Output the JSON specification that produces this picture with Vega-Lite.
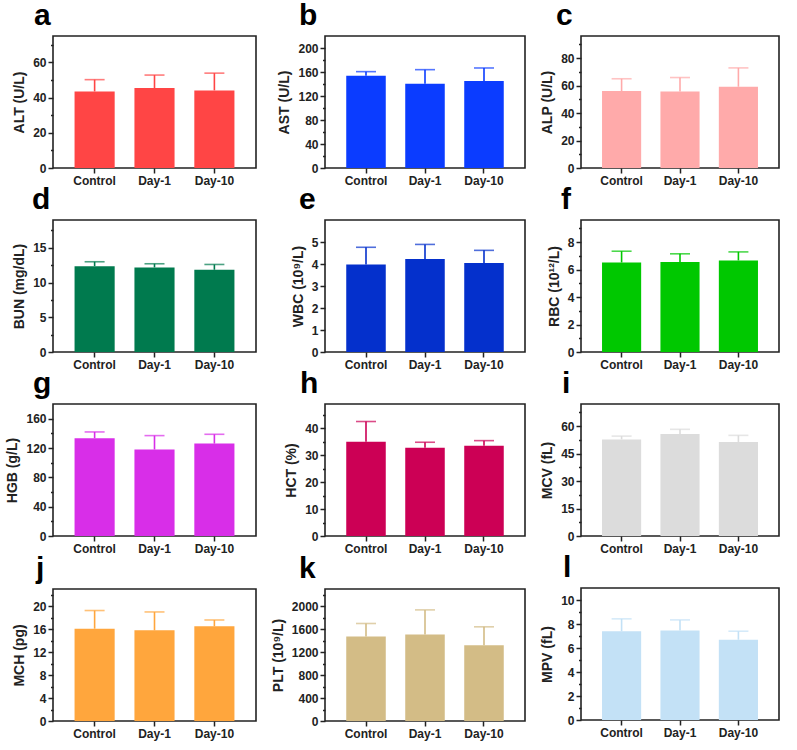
{
"$schema": "https://vega.github.io/schema/vega-lite/v6.json",
"padding": {"left": 5, "top": 0, "right": 5, "bottom": 5},
"background": "white",
"datasets": {"blood": [
{"panel":"a","group":"Control","mean":43.5,"hi":50.2},{"panel":"a","group":"Day-1","mean":45.4,"hi":52.8},{"panel":"a","group":"Day-10","mean":44.1,"hi":53.9},
{"panel":"b","group":"Control","mean":153.9,"hi":160.6},{"panel":"b","group":"Day-1","mean":140.6,"hi":163.9},{"panel":"b","group":"Day-10","mean":145,"hi":166.7},
{"panel":"c","group":"Control","mean":56,"hi":64.9},{"panel":"c","group":"Day-1","mean":55.7,"hi":65.8},{"panel":"c","group":"Day-10","mean":59.1,"hi":72.8},
{"panel":"d","group":"Control","mean":12.36,"hi":12.99},{"panel":"d","group":"Day-1","mean":12.17,"hi":12.7},{"panel":"d","group":"Day-10","mean":11.84,"hi":12.6},
{"panel":"e","group":"Control","mean":3.98,"hi":4.76},{"panel":"e","group":"Day-1","mean":4.23,"hi":4.89},{"panel":"e","group":"Day-10","mean":4.04,"hi":4.62},
{"panel":"f","group":"Control","mean":6.51,"hi":7.33},{"panel":"f","group":"Day-1","mean":6.54,"hi":7.14},{"panel":"f","group":"Day-10","mean":6.66,"hi":7.28},
{"panel":"g","group":"Control","mean":133.3,"hi":141.9},{"panel":"g","group":"Day-1","mean":117.9,"hi":136.9},{"panel":"g","group":"Day-10","mean":126,"hi":138.7},
{"panel":"h","group":"Control","mean":35.0,"hi":42.5},{"panel":"h","group":"Day-1","mean":32.8,"hi":34.8},{"panel":"h","group":"Day-10","mean":33.5,"hi":35.4},
{"panel":"i","group":"Control","mean":52.7,"hi":54.5},{"panel":"i","group":"Day-1","mean":55.6,"hi":58.2},{"panel":"i","group":"Day-10","mean":51.3,"hi":54.9},
{"panel":"j","group":"Control","mean":16.08,"hi":19.25},{"panel":"j","group":"Day-1","mean":15.8,"hi":19.0},{"panel":"j","group":"Day-10","mean":16.5,"hi":17.6},
{"panel":"k","group":"Control","mean":1472,"hi":1699},{"panel":"k","group":"Day-1","mean":1507,"hi":1936},{"panel":"k","group":"Day-10","mean":1322,"hi":1641},
{"panel":"l","group":"Control","mean":7.4,"hi":8.43},{"panel":"l","group":"Day-1","mean":7.46,"hi":8.34},{"panel":"l","group":"Day-10","mean":6.69,"hi":7.4}
]},
"config": {
  "font": "Liberation Sans",
  "view": {"stroke": "#222", "strokeWidth": 1.6},
  "axis": {"labelFont": "Liberation Sans", "labelFontWeight": "bold", "labelFontSize": 12, "labelColor": "#222", "titleFont": "Liberation Sans", "titleFontWeight": "bold", "titleFontSize": 14, "titleColor": "#222", "tickColor": "#222", "tickWidth": 1.5, "domain": false, "grid": false, "labelPadding": 2},
  "axisY": {"titlePadding": 6, "labelOverlap": false},
  "axisX": {"tickSize": 5, "labelAngle": 0},
  "title": {"anchor": "start", "frame": "group", "fontSize": 30, "fontWeight": "bold", "font": "Liberation Sans", "color": "#000", "offset": 5},
  "bar": {"stroke": null}
},
"spacing": 13,
"hconcat": [
 {"spacing": -3, "vconcat": [
  {"title": {"text": "a", "dx": -19}, "width": 203, "height": 132, "data": {"name": "blood"}, "transform": [{"filter": "datum.panel === 'a'"}],
   "encoding": {"x": {"field": "group", "type": "nominal", "sort": ["Control","Day-1","Day-10"], "title": null, "scale": {"paddingInner": 0.33, "paddingOuter": 0.36}},
     "y": {"field": "mean", "type": "quantitative", "title": "ALT (U/L)", "scale": {"domain": [0, 75], "nice": false}, "axis": {"values": [0,10,20,30,40,50,60,70], "labelExpr": "datum.value % 20 === 0 ? datum.label : ''", "tickSize": {"condition": {"test": "datum.value % 20 === 0", "value": 5}, "value": 2.5}}}},
   "layer": [
    {"mark": {"type": "bar", "color": "#ff4545"}},
    {"mark": {"type": "rule", "color": "#ff4545", "strokeWidth": 1.6}, "encoding": {"y2": {"field": "hi"}}},
    {"mark": {"type": "tick", "color": "#ff4545", "size": 20, "thickness": 1.6}, "encoding": {"y": {"field": "hi", "type": "quantitative", "title": "ALT (U/L)"}}}
   ]},
  {"title": {"text": "d", "dx": -21}, "width": 203, "height": 132, "data": {"name": "blood"}, "transform": [{"filter": "datum.panel === 'd'"}],
   "encoding": {"x": {"field": "group", "type": "nominal", "sort": ["Control","Day-1","Day-10"], "title": null, "scale": {"paddingInner": 0.33, "paddingOuter": 0.36}},
     "y": {"field": "mean", "type": "quantitative", "title": "BUN (mg/dL)", "scale": {"domain": [0, 19], "nice": false}, "axis": {"format": "d", "values": [0,2.5,5,7.5,10,12.5,15,17.5], "labelExpr": "datum.value % 5 === 0 ? datum.label : ''", "tickSize": {"condition": {"test": "datum.value % 5 === 0", "value": 5}, "value": 2.5}}}},
   "layer": [
    {"mark": {"type": "bar", "color": "#007a4e"}},
    {"mark": {"type": "rule", "color": "#007a4e", "strokeWidth": 1.6}, "encoding": {"y2": {"field": "hi"}}},
    {"mark": {"type": "tick", "color": "#007a4e", "size": 20, "thickness": 1.6}, "encoding": {"y": {"field": "hi", "type": "quantitative", "title": "BUN (mg/dL)"}}}
   ]},
  {"title": {"text": "g", "dx": -20}, "width": 203, "height": 132, "data": {"name": "blood"}, "transform": [{"filter": "datum.panel === 'g'"}],
   "encoding": {"x": {"field": "group", "type": "nominal", "sort": ["Control","Day-1","Day-10"], "title": null, "scale": {"paddingInner": 0.33, "paddingOuter": 0.36}},
     "y": {"field": "mean", "type": "quantitative", "title": "HGB (g/L)", "scale": {"domain": [0, 180], "nice": false}, "axis": {"values": [0,20,40,60,80,100,120,140,160], "labelExpr": "datum.value % 40 === 0 ? datum.label : ''", "tickSize": {"condition": {"test": "datum.value % 40 === 0", "value": 5}, "value": 2.5}}}},
   "layer": [
    {"mark": {"type": "bar", "color": "#d82ee8"}},
    {"mark": {"type": "rule", "color": "#d82ee8", "strokeWidth": 1.6}, "encoding": {"y2": {"field": "hi"}}},
    {"mark": {"type": "tick", "color": "#d82ee8", "size": 20, "thickness": 1.6}, "encoding": {"y": {"field": "hi", "type": "quantitative", "title": "HGB (g/L)"}}}
   ]},
  {"title": {"text": "j", "dx": -17}, "width": 203, "height": 132, "data": {"name": "blood"}, "transform": [{"filter": "datum.panel === 'j'"}],
   "encoding": {"x": {"field": "group", "type": "nominal", "sort": ["Control","Day-1","Day-10"], "title": null, "scale": {"paddingInner": 0.33, "paddingOuter": 0.36}},
     "y": {"field": "mean", "type": "quantitative", "title": "MCH (pg)", "scale": {"domain": [0, 23], "nice": false}, "axis": {"values": [0,2,4,6,8,10,12,14,16,18,20,22], "labelExpr": "datum.value % 4 === 0 ? datum.label : ''", "tickSize": {"condition": {"test": "datum.value % 4 === 0", "value": 5}, "value": 2.5}}}},
   "layer": [
    {"mark": {"type": "bar", "color": "#ffa63d"}},
    {"mark": {"type": "rule", "color": "#ffa63d", "strokeWidth": 1.6}, "encoding": {"y2": {"field": "hi"}}},
    {"mark": {"type": "tick", "color": "#ffa63d", "size": 20, "thickness": 1.6}, "encoding": {"y": {"field": "hi", "type": "quantitative", "title": "MCH (pg)"}}}
   ]}
 ]},
 {"spacing": -3, "vconcat": [
  {"title": {"text": "b", "dx": -26}, "width": 200, "height": 132, "data": {"name": "blood"}, "transform": [{"filter": "datum.panel === 'b'"}],
   "encoding": {"x": {"field": "group", "type": "nominal", "sort": ["Control","Day-1","Day-10"], "title": null, "scale": {"paddingInner": 0.33, "paddingOuter": 0.36}},
     "y": {"field": "mean", "type": "quantitative", "title": "AST (U/L)", "scale": {"domain": [0, 220], "nice": false}, "axis": {"values": [0,20,40,60,80,100,120,140,160,180,200], "labelExpr": "datum.value % 40 === 0 ? datum.label : ''", "tickSize": {"condition": {"test": "datum.value % 40 === 0", "value": 5}, "value": 2.5}}}},
   "layer": [
    {"mark": {"type": "bar", "color": "#0b3cff"}},
    {"mark": {"type": "rule", "color": "#0b3cff", "strokeWidth": 1.6}, "encoding": {"y2": {"field": "hi"}}},
    {"mark": {"type": "tick", "color": "#0b3cff", "size": 20, "thickness": 1.6}, "encoding": {"y": {"field": "hi", "type": "quantitative", "title": "AST (U/L)"}}}
   ]},
  {"title": {"text": "e", "dx": -26}, "width": 200, "height": 132, "data": {"name": "blood"}, "transform": [{"filter": "datum.panel === 'e'"}],
   "encoding": {"x": {"field": "group", "type": "nominal", "sort": ["Control","Day-1","Day-10"], "title": null, "scale": {"paddingInner": 0.33, "paddingOuter": 0.36}},
     "y": {"field": "mean", "type": "quantitative", "title": "WBC (10⁹/L)", "scale": {"domain": [0, 6], "nice": false}, "axis": {"format": "d", "values": [0,0.5,1,1.5,2,2.5,3,3.5,4,4.5,5,5.5], "labelExpr": "datum.value % 1 === 0 ? datum.label : ''", "tickSize": {"condition": {"test": "datum.value % 1 === 0", "value": 5}, "value": 2.5}}}},
   "layer": [
    {"mark": {"type": "bar", "color": "#0430cc"}},
    {"mark": {"type": "rule", "color": "#0430cc", "strokeWidth": 1.6}, "encoding": {"y2": {"field": "hi"}}},
    {"mark": {"type": "tick", "color": "#0430cc", "size": 20, "thickness": 1.6}, "encoding": {"y": {"field": "hi", "type": "quantitative", "title": "WBC (10⁹/L)"}}}
   ]},
  {"title": {"text": "h", "dx": -25}, "width": 200, "height": 132, "data": {"name": "blood"}, "transform": [{"filter": "datum.panel === 'h'"}],
   "encoding": {"x": {"field": "group", "type": "nominal", "sort": ["Control","Day-1","Day-10"], "title": null, "scale": {"paddingInner": 0.33, "paddingOuter": 0.36}},
     "y": {"field": "mean", "type": "quantitative", "title": "HCT (%)", "scale": {"domain": [0, 49], "nice": false}, "axis": {"values": [0,5,10,15,20,25,30,35,40,45], "labelExpr": "datum.value % 10 === 0 ? datum.label : ''", "tickSize": {"condition": {"test": "datum.value % 10 === 0", "value": 5}, "value": 2.5}}}},
   "layer": [
    {"mark": {"type": "bar", "color": "#cc0055"}},
    {"mark": {"type": "rule", "color": "#cc0055", "strokeWidth": 1.6}, "encoding": {"y2": {"field": "hi"}}},
    {"mark": {"type": "tick", "color": "#cc0055", "size": 20, "thickness": 1.6}, "encoding": {"y": {"field": "hi", "type": "quantitative", "title": "HCT (%)"}}}
   ]},
  {"title": {"text": "k", "dx": -26}, "width": 200, "height": 132, "data": {"name": "blood"}, "transform": [{"filter": "datum.panel === 'k'"}],
   "encoding": {"x": {"field": "group", "type": "nominal", "sort": ["Control","Day-1","Day-10"], "title": null, "scale": {"paddingInner": 0.33, "paddingOuter": 0.36}},
     "y": {"field": "mean", "type": "quantitative", "title": "PLT (10⁹/L)", "scale": {"domain": [0, 2300], "nice": false}, "axis": {"format": "d", "values": [0,200,400,600,800,1000,1200,1400,1600,1800,2000,2200], "labelExpr": "datum.value % 400 === 0 ? datum.label : ''", "tickSize": {"condition": {"test": "datum.value % 400 === 0", "value": 5}, "value": 2.5}}}},
   "layer": [
    {"mark": {"type": "bar", "color": "#d3bc86"}},
    {"mark": {"type": "rule", "color": "#d3bc86", "strokeWidth": 1.6}, "encoding": {"y2": {"field": "hi"}}},
    {"mark": {"type": "tick", "color": "#d3bc86", "size": 20, "thickness": 1.6}, "encoding": {"y": {"field": "hi", "type": "quantitative", "title": "PLT (10⁹/L)"}}}
   ]}
 ]},
 {"spacing": -3, "vconcat": [
  {"title": {"text": "c", "dx": -25}, "width": 198, "height": 132, "data": {"name": "blood"}, "transform": [{"filter": "datum.panel === 'c'"}],
   "encoding": {"x": {"field": "group", "type": "nominal", "sort": ["Control","Day-1","Day-10"], "title": null, "scale": {"paddingInner": 0.33, "paddingOuter": 0.36}},
     "y": {"field": "mean", "type": "quantitative", "title": "ALP (U/L)", "scale": {"domain": [0, 96], "nice": false}, "axis": {"values": [0,10,20,30,40,50,60,70,80,90], "labelExpr": "datum.value % 20 === 0 ? datum.label : ''", "tickSize": {"condition": {"test": "datum.value % 20 === 0", "value": 5}, "value": 2.5}}}},
   "layer": [
    {"mark": {"type": "bar", "color": "#ffaaaa"}},
    {"mark": {"type": "rule", "color": "#ffaaaa", "strokeWidth": 1.6}, "encoding": {"y2": {"field": "hi"}}},
    {"mark": {"type": "tick", "color": "#ffaaaa", "size": 20, "thickness": 1.6}, "encoding": {"y": {"field": "hi", "type": "quantitative", "title": "ALP (U/L)"}}}
   ]},
  {"title": {"text": "f", "dx": -20}, "width": 198, "height": 132, "data": {"name": "blood"}, "transform": [{"filter": "datum.panel === 'f'"}],
   "encoding": {"x": {"field": "group", "type": "nominal", "sort": ["Control","Day-1","Day-10"], "title": null, "scale": {"paddingInner": 0.33, "paddingOuter": 0.36}},
     "y": {"field": "mean", "type": "quantitative", "title": "RBC (10¹²/L)", "scale": {"domain": [0, 9.6], "nice": false}, "axis": {"values": [0,1,2,3,4,5,6,7,8,9], "labelExpr": "datum.value % 2 === 0 ? datum.label : ''", "tickSize": {"condition": {"test": "datum.value % 2 === 0", "value": 5}, "value": 2.5}}}},
   "layer": [
    {"mark": {"type": "bar", "color": "#00c800"}},
    {"mark": {"type": "rule", "color": "#00c800", "strokeWidth": 1.6}, "encoding": {"y2": {"field": "hi"}}},
    {"mark": {"type": "tick", "color": "#00c800", "size": 20, "thickness": 1.6}, "encoding": {"y": {"field": "hi", "type": "quantitative", "title": "RBC (10¹²/L)"}}}
   ]},
  {"title": {"text": "i", "dx": -19}, "width": 198, "height": 132, "data": {"name": "blood"}, "transform": [{"filter": "datum.panel === 'i'"}],
   "encoding": {"x": {"field": "group", "type": "nominal", "sort": ["Control","Day-1","Day-10"], "title": null, "scale": {"paddingInner": 0.33, "paddingOuter": 0.36}},
     "y": {"field": "mean", "type": "quantitative", "title": "MCV (fL)", "scale": {"domain": [0, 72], "nice": false}, "axis": {"format": "d", "values": [0,7.5,15,22.5,30,37.5,45,52.5,60,67.5], "labelExpr": "datum.value % 15 === 0 ? datum.label : ''", "tickSize": {"condition": {"test": "datum.value % 15 === 0", "value": 5}, "value": 2.5}}}},
   "layer": [
    {"mark": {"type": "bar", "color": "#dcdcdc"}},
    {"mark": {"type": "rule", "color": "#dcdcdc", "strokeWidth": 1.6}, "encoding": {"y2": {"field": "hi"}}},
    {"mark": {"type": "tick", "color": "#dcdcdc", "size": 20, "thickness": 1.6}, "encoding": {"y": {"field": "hi", "type": "quantitative", "title": "MCV (fL)"}}}
   ]},
  {"title": {"text": "l", "dx": -18}, "width": 198, "height": 132, "data": {"name": "blood"}, "transform": [{"filter": "datum.panel === 'l'"}],
   "encoding": {"x": {"field": "group", "type": "nominal", "sort": ["Control","Day-1","Day-10"], "title": null, "scale": {"paddingInner": 0.33, "paddingOuter": 0.36}},
     "y": {"field": "mean", "type": "quantitative", "title": "MPV (fL)", "scale": {"domain": [0, 11], "nice": false}, "axis": {"values": [0,1,2,3,4,5,6,7,8,9,10], "labelExpr": "datum.value % 2 === 0 ? datum.label : ''", "tickSize": {"condition": {"test": "datum.value % 2 === 0", "value": 5}, "value": 2.5}}}},
   "layer": [
    {"mark": {"type": "bar", "color": "#c3e1f6"}},
    {"mark": {"type": "rule", "color": "#c3e1f6", "strokeWidth": 1.6}, "encoding": {"y2": {"field": "hi"}}},
    {"mark": {"type": "tick", "color": "#c3e1f6", "size": 20, "thickness": 1.6}, "encoding": {"y": {"field": "hi", "type": "quantitative", "title": "MPV (fL)"}}}
   ]}
 ]}
]
}
